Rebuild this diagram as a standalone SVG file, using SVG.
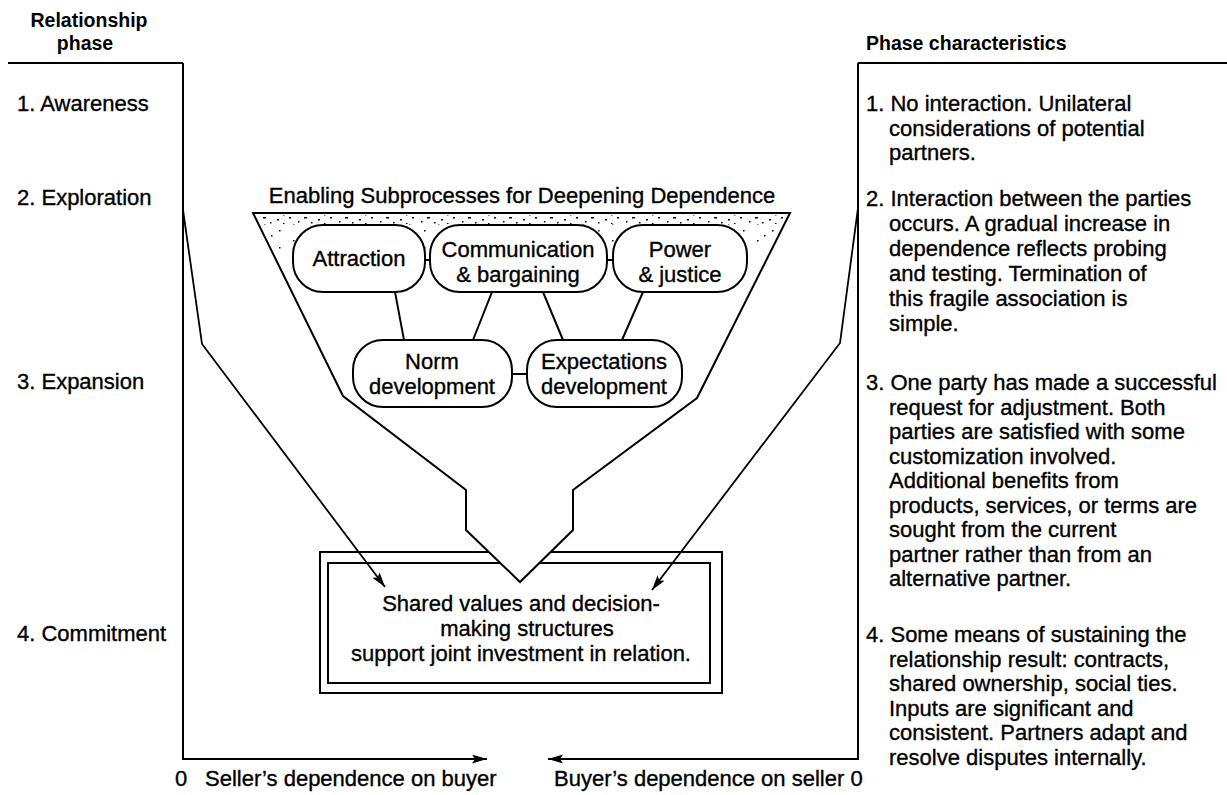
<svg xmlns="http://www.w3.org/2000/svg" width="1227" height="795" viewBox="0 0 1227 795">
  <defs>
    <style>
      .t { font-family: "Liberation Sans", Arial, sans-serif; font-size: 22px; fill: #000; stroke: #000; stroke-width: 0.35px; }
      .hd { font-family: "Liberation Sans", Arial, sans-serif; font-size: 19.5px; font-weight: bold; fill: #000; }
      .c { text-anchor: middle; }
      .ln { fill: none; stroke: #000; stroke-width: 2; }
      .thin { fill: none; stroke: #000; stroke-width: 1.8; }
      .pill { fill: #fff; stroke: #000; stroke-width: 2; }
    </style>
    <marker id="ah" markerUnits="userSpaceOnUse" markerWidth="16" markerHeight="10" refX="15" refY="4.5" orient="auto">
      <path d="M0,0 L15,4.5 L0,9 L3,4.5 z" fill="#000"/>
    </marker>
    <!-- sparse speckle used for the shaded band under the funnel rim -->
    <pattern id="speck" width="41" height="9" patternUnits="userSpaceOnUse">
      <rect x="2" y="1" width="2" height="1.5" fill="#000"/>
      <rect x="11" y="5" width="1.5" height="1.5" fill="#000"/>
      <rect x="17" y="1" width="3" height="1.5" fill="#000"/>
      <rect x="24" y="6" width="1.5" height="1.5" fill="#000"/>
      <rect x="31" y="3" width="2" height="1.5" fill="#000"/>
      <rect x="37" y="7" width="1.5" height="1.5" fill="#000"/>
    </pattern>
    <pattern id="speck2" width="29" height="17" patternUnits="userSpaceOnUse">
      <rect x="3" y="2" width="1.5" height="1.5" fill="#000"/>
      <rect x="18" y="9" width="1.5" height="1.5" fill="#000"/>
      <rect x="10" y="14" width="1.5" height="1.5" fill="#000"/>
    </pattern>
  </defs>

  <rect width="1227" height="795" fill="#fff"/>

  <!-- left column: phases -->
  <g id="phase-header">
    <text class="hd c" x="89" y="27">Relationship</text>
    <text class="hd c" x="85" y="50">phase</text>
  </g>
  <g id="phase-labels">
    <text class="t" x="17" y="111">1. Awareness</text>
    <text class="t" x="17" y="205">2. Exploration</text>
    <text class="t" x="17" y="389">3. Expansion</text>
    <text class="t" x="17" y="641">4. Commitment</text>
  </g>

  <!-- right column: characteristics -->
  <g id="char-header">
    <text class="hd" x="866" y="50">Phase characteristics</text>
  </g>
  <g id="char-1">
    <text class="t" x="866" y="111">1. No interaction. Unilateral</text>
    <text class="t" x="889" y="135.5">considerations of potential</text>
    <text class="t" x="889" y="160">partners.</text>
  </g>
  <g id="char-2">
    <text class="t" x="866" y="206">2. Interaction between the parties</text>
    <text class="t" x="889" y="231">occurs. A gradual increase in</text>
    <text class="t" x="889" y="256">dependence reflects probing</text>
    <text class="t" x="889" y="281">and testing. Termination of</text>
    <text class="t" x="889" y="306">this fragile association is</text>
    <text class="t" x="889" y="331">simple.</text>
  </g>
  <g id="char-3">
    <text class="t" x="866" y="390">3. One party has made a successful</text>
    <text class="t" x="889" y="414.5">request for adjustment. Both</text>
    <text class="t" x="889" y="439">parties are satisfied with some</text>
    <text class="t" x="889" y="463.5">customization involved.</text>
    <text class="t" x="889" y="488">Additional benefits from</text>
    <text class="t" x="889" y="512.5">products, services, or terms are</text>
    <text class="t" x="889" y="537">sought from the current</text>
    <text class="t" x="889" y="561.5">partner rather than from an</text>
    <text class="t" x="889" y="586">alternative partner.</text>
  </g>
  <g id="char-4">
    <text class="t" x="866" y="642">4. Some means of sustaining the</text>
    <text class="t" x="889" y="666.5">relationship result: contracts,</text>
    <text class="t" x="889" y="691">shared ownership, social ties.</text>
    <text class="t" x="889" y="715.5">Inputs are significant and</text>
    <text class="t" x="889" y="740">consistent. Partners adapt and</text>
    <text class="t" x="889" y="764.5">resolve disputes internally.</text>
  </g>

  <!-- axis labels -->
  <g id="axis-labels">
    <text class="t" x="175" y="786">0</text>
    <text class="t" x="205" y="786">Seller’s dependence on buyer</text>
    <text class="t" x="554" y="786">Buyer’s dependence on seller 0</text>
  </g>

  <!-- outcome box -->
  <g id="outcome">
    <rect class="ln" x="320" y="552" width="402" height="141"/>
    <rect class="ln" x="328" y="563" width="382" height="120"/>
    <text class="t c" x="521" y="611">Shared values and decision-</text>
    <text class="t c" x="527" y="636">making structures</text>
    <text class="t c" x="521" y="661">support joint investment in relation.</text>
  </g>

  <!-- enabling subprocesses funnel -->
  <g id="funnel">
    <text class="t c" x="522" y="203">Enabling Subprocesses for Deepening Dependence</text>
    <polygon class="ln" style="fill:#fff" points="253,213 790,213 697,398 573,490 573,530 520,582 466,530 466,490 343,396"/>
    <polygon fill="url(#speck)" points="256,215 787,215 782,224 260,224"/>
    <polygon fill="url(#speck2)" points="260,224 782,224 768,252 273,252"/>
    <line class="ln" x1="253" y1="213" x2="790" y2="213"/>
  </g>

  <!-- connectors -->
  <g id="connectors">
    <line class="ln" x1="8" y1="63" x2="183" y2="63"/>
    <line class="ln" x1="858" y1="63" x2="1227" y2="63"/>
    <polyline class="ln" points="183,63 183,759 487,759" marker-end="url(#ah)"/>
    <polyline class="ln" points="858,63 858,759 548,759" marker-end="url(#ah)"/>
    <polyline class="thin" points="183,210 202,344 385,587" marker-end="url(#ah)"/>
    <polyline class="thin" points="858,208 840,343 652,590" marker-end="url(#ah)"/>
    <line class="ln" x1="425" y1="260" x2="430" y2="260"/>
    <line class="ln" x1="607" y1="260" x2="613" y2="260"/>
    <line class="ln" x1="395" y1="292" x2="404" y2="340"/>
    <line class="ln" x1="492" y1="292" x2="473" y2="340"/>
    <line class="ln" x1="543" y1="292" x2="563" y2="340"/>
    <line class="ln" x1="643" y1="292" x2="622" y2="340"/>
    <line class="ln" x1="512" y1="374" x2="527" y2="374"/>
  </g>

  <!-- subprocess nodes -->
  <g id="attraction">
    <rect class="pill" x="293" y="225" width="132" height="67" rx="30" ry="30"/>
    <text class="t c" x="359" y="266">Attraction</text>
  </g>
  <g id="communication">
    <rect class="pill" x="430" y="225" width="177" height="67" rx="30" ry="30"/>
    <text class="t c" x="518" y="257">Communication</text>
    <text class="t c" x="518" y="282">&amp; bargaining</text>
  </g>
  <g id="power">
    <rect class="pill" x="613" y="225" width="134" height="67" rx="30" ry="30"/>
    <text class="t c" x="680" y="257">Power</text>
    <text class="t c" x="680" y="282">&amp; justice</text>
  </g>
  <g id="norm">
    <rect class="pill" x="353" y="340" width="159" height="67" rx="30" ry="30"/>
    <text class="t c" x="432" y="369">Norm</text>
    <text class="t c" x="432" y="394">development</text>
  </g>
  <g id="expectations">
    <rect class="pill" x="527" y="340" width="155" height="67" rx="30" ry="30"/>
    <text class="t c" x="604" y="369">Expectations</text>
    <text class="t c" x="604" y="394">development</text>
  </g>
</svg>
